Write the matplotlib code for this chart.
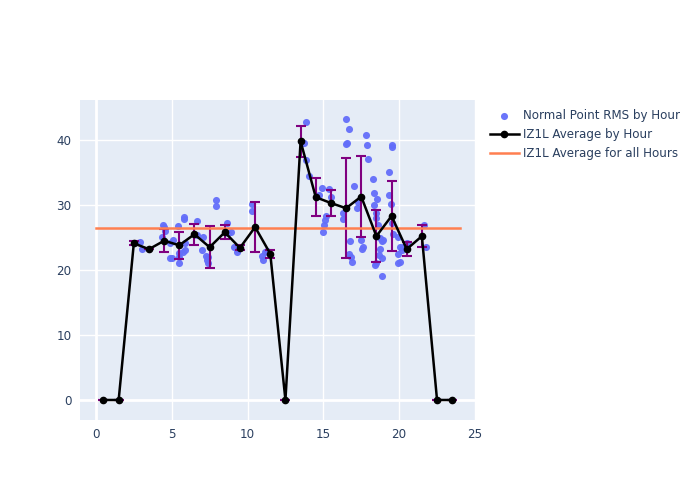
import matplotlib
matplotlib.use("Agg")
import matplotlib.pyplot as plt
import numpy as np

# Scatter: Normal Point RMS by Hour
scatter_x = [2.9, 3.03, 4.4, 4.5, 4.33, 4.55, 4.88, 5.03, 5.06, 4.9, 5.39, 5.8, 5.82,
             5.47, 5.45, 5.5, 5.9, 5.9, 5.76, 6.64, 6.64, 7.08, 6.97, 7.26, 7.3, 7.36, 7.4,
             7.91, 7.9, 8.64, 8.7, 8.9, 9.1, 9.28, 9.35, 10.27, 10.27, 10.93, 11.0, 11.15, 11.26,
             13.83, 13.74, 13.85, 14.07, 14.88, 14.73, 15.39, 15.48, 15.2, 15.1, 15.04, 14.95,
             16.49, 16.69, 16.58, 16.49, 16.27, 16.3, 16.75, 16.7, 16.8, 16.9, 17.04, 17.2, 17.26,
             17.46, 17.6, 17.53, 17.8, 17.87, 17.96, 18.3, 18.34, 18.56, 18.32, 18.47, 18.5, 18.6,
             18.73, 18.84, 18.95, 18.73, 18.7, 18.87, 18.47, 18.4, 18.84, 19.3, 19.53, 19.5,
             19.35, 19.46, 19.56, 19.6, 19.94, 20.05, 19.94, 19.9, 20.05, 20.16, 20.27, 20.5,
             21.64, 21.8]
scatter_y = [24.35, 23.2, 26.9, 26.6, 25.1, 26.0, 21.9, 21.9, 24.6, 24.1, 26.7, 28.2, 27.9,
             22.6, 21.1, 22.0, 24.1, 23.0, 22.8, 27.6, 25.4, 25.0, 23.1, 22.2, 21.5, 21.0, 22.0,
             30.8, 29.8, 27.3, 25.7, 25.8, 23.6, 22.8, 23.2, 30.2, 29.1, 22.1, 21.6, 22.8, 22.9,
             42.8, 39.6, 36.9, 34.4, 32.6, 31.5, 32.5, 31.3, 28.3, 27.7, 26.9, 25.8,
             43.2, 41.7, 39.5, 39.4, 28.8, 27.9, 24.4, 22.5, 22.0, 21.3, 32.9, 29.6, 30.5,
             24.6, 23.6, 23.3, 40.8, 39.3, 37.0, 34.0, 31.8, 30.9, 30.0, 28.7, 28.0, 26.9,
             24.9, 24.4, 24.6, 23.3, 22.3, 21.9, 21.0, 20.8, 19.0, 35.1, 39.2, 38.9,
             31.5, 30.2, 27.2, 25.6, 25.1, 23.6, 22.5, 21.0, 21.2, 23.1, 23.6, 24.1,
             26.9, 23.6]

# IZ1L Average by Hour
hours = [0.5, 1.5, 2.5, 3.5, 4.5, 5.5, 6.5, 7.5, 8.5, 9.5, 10.5, 11.5,
         12.5, 13.5, 14.5, 15.5, 16.5, 17.5, 18.5, 19.5, 20.5, 21.5, 22.5, 23.5]
avg = [0, 0, 24.1, 23.2, 24.5, 23.8, 25.5, 23.5, 25.8, 23.4, 26.6, 22.5,
       0, 39.8, 31.2, 30.3, 29.5, 31.3, 25.2, 28.3, 23.2, 25.2, 0, 0]
err = [0, 0, 0.3, 0, 1.8, 2.1, 1.6, 3.2, 1.1, 0.4, 3.8, 0.6,
       0, 2.4, 2.9, 2.0, 7.7, 6.3, 4.0, 5.4, 1.1, 1.7, 0, 0]

overall_avg = 26.5
overall_x = [0, 24]

fig = plt.figure(figsize=(7, 5), dpi=100)
ax = fig.add_axes([80/700, 80/500, 396/700, 320/500])
ax.set_facecolor("#E5ECF6")
for s in ax.spines.values():
    s.set_visible(False)

ax.set_xlim(-1.05, 25.07)
ax.set_ylim(-3.08, 46.15)
ax.set_xticks([0, 5, 10, 15, 20, 25])
ax.set_yticks([0, 10, 20, 30, 40])
ax.grid(True, color="white", linewidth=1)
ax.axhline(0, color="white", linewidth=2, zorder=0.5)
ax.axvline(0, color="white", linewidth=2, zorder=0.5)
ax.set_axisbelow(True)
ax.tick_params(length=0, labelsize=8.6, labelcolor="#2a3f5f", pad=6)

ax.scatter(scatter_x, scatter_y, s=26, color="#636EFA", alpha=0.95, linewidths=0,
           label="Normal Point RMS by Hour", zorder=2)
ax.errorbar(hours, avg, yerr=err, fmt="none", ecolor="#800080", elinewidth=1.5,
            capsize=3.5, capthick=1.5, zorder=3)
ax.plot(hours, avg, color="black", linewidth=1.8, marker="o", markersize=4.5,
        label="IZ1L Average by Hour", zorder=4)
ax.plot(overall_x, [overall_avg, overall_avg], color="#FF7F50", linewidth=1.8,
        label="IZ1L Average for all Hours", zorder=3.5)

leg = ax.legend(loc="upper left", bbox_to_anchor=(1.013, 0.998), frameon=False,
                fontsize=8.6, handlelength=2.5, handletextpad=0.3, labelspacing=0.52,
                borderaxespad=0.3)
for t in leg.get_texts():
    t.set_color("#2a3f5f")

fig.savefig("out.png", dpi=100)
